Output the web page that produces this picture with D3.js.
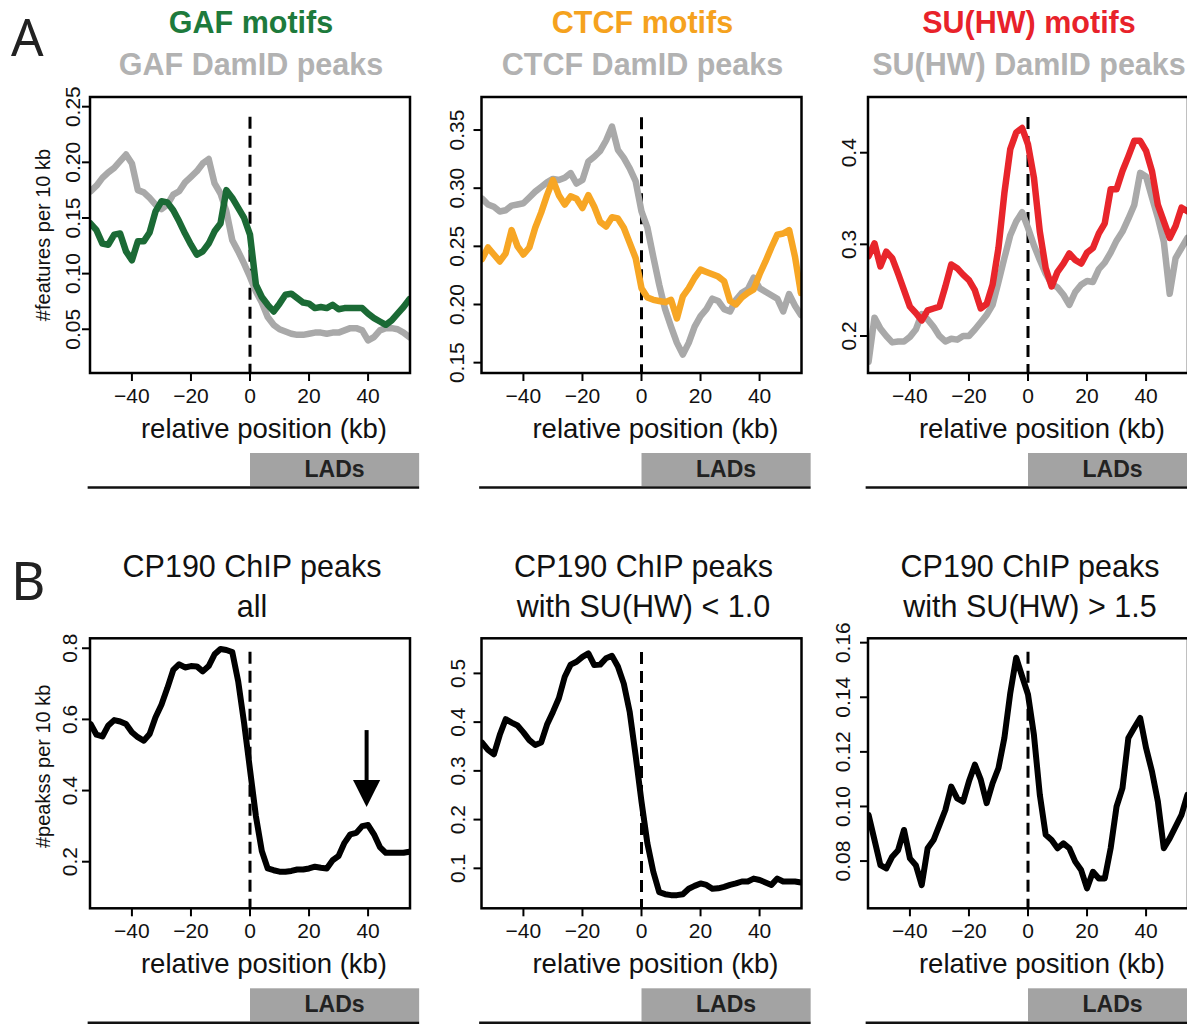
<!DOCTYPE html>
<html><head><meta charset="utf-8">
<script src="https://cdn.jsdelivr.net/npm/d3@7"></script>
<style>body{margin:0;background:#fff} svg{display:block}</style>
</head><body><svg id="c" width="1187" height="1025"></svg>
<script>
// ---- data (kb positions relative to LAD border) ----
const positions = [-54,-52,-50,-48,-46,-44,-42,-40,-38,-36,-34,-32,-30,-28,-26,-24,-22,-20,-18,-16,-14,-12,-10,-8,-6,-4,-2,0,2,4,6,8,10,12,14,16,18,20,22,24,26,28,30,32,34,36,38,40,42,44,46,48,50,52,54];

const gafMotifs = [0.145,0.139,0.127,0.126,0.135,0.136,0.120,0.112,0.129,0.129,0.137,0.156,0.165,0.164,0.157,0.147,0.136,0.126,0.117,0.120,0.127,0.138,0.145,0.175,0.168,0.159,0.150,0.135,0.090,0.079,0.072,0.066,0.073,0.081,0.082,0.078,0.074,0.073,0.069,0.070,0.069,0.072,0.068,0.069,0.069,0.069,0.069,0.064,0.060,0.057,0.054,0.058,0.064,0.070,0.077];
const gafPeaks = [0.174,0.179,0.186,0.191,0.195,0.201,0.207,0.199,0.175,0.173,0.168,0.162,0.158,0.162,0.171,0.174,0.182,0.187,0.192,0.199,0.203,0.181,0.172,0.156,0.130,0.120,0.109,0.097,0.084,0.074,0.061,0.054,0.050,0.048,0.046,0.045,0.045,0.046,0.047,0.047,0.046,0.047,0.047,0.049,0.051,0.051,0.049,0.040,0.043,0.049,0.051,0.051,0.050,0.047,0.043];

const ctcfMotifs = [0.239,0.249,0.243,0.237,0.244,0.264,0.250,0.243,0.249,0.266,0.279,0.294,0.307,0.294,0.286,0.293,0.291,0.283,0.294,0.284,0.271,0.267,0.275,0.274,0.266,0.253,0.240,0.214,0.206,0.204,0.203,0.202,0.204,0.188,0.207,0.214,0.223,0.230,0.228,0.226,0.224,0.220,0.203,0.200,0.206,0.210,0.213,0.226,0.237,0.249,0.260,0.261,0.264,0.241,0.210];
const ctcfPeaks = [0.291,0.286,0.284,0.280,0.281,0.285,0.286,0.287,0.292,0.297,0.301,0.305,0.308,0.307,0.309,0.313,0.304,0.307,0.323,0.327,0.332,0.341,0.353,0.333,0.326,0.317,0.306,0.280,0.266,0.241,0.217,0.196,0.181,0.167,0.157,0.167,0.181,0.190,0.196,0.205,0.203,0.196,0.194,0.204,0.210,0.213,0.223,0.214,0.211,0.208,0.205,0.194,0.209,0.199,0.191];

const suhwMotifs = [0.287,0.301,0.276,0.292,0.285,0.268,0.250,0.232,0.225,0.217,0.228,0.230,0.232,0.254,0.278,0.274,0.267,0.261,0.250,0.230,0.235,0.256,0.296,0.356,0.404,0.422,0.427,0.409,0.373,0.314,0.274,0.254,0.270,0.279,0.290,0.283,0.279,0.291,0.296,0.312,0.323,0.360,0.360,0.380,0.396,0.413,0.413,0.402,0.380,0.343,0.325,0.307,0.320,0.340,0.336];
const suhwPeaks = [0.172,0.220,0.208,0.200,0.193,0.194,0.194,0.199,0.207,0.224,0.218,0.210,0.200,0.194,0.197,0.196,0.200,0.200,0.207,0.215,0.223,0.234,0.259,0.285,0.310,0.325,0.335,0.318,0.299,0.283,0.268,0.257,0.253,0.245,0.234,0.248,0.256,0.260,0.259,0.273,0.280,0.291,0.304,0.314,0.328,0.343,0.378,0.374,0.351,0.329,0.303,0.246,0.285,0.296,0.307];

const cp190All = [0.587,0.557,0.552,0.583,0.598,0.594,0.587,0.564,0.550,0.540,0.559,0.606,0.641,0.688,0.739,0.755,0.746,0.750,0.749,0.735,0.750,0.783,0.798,0.795,0.789,0.707,0.590,0.459,0.328,0.230,0.181,0.176,0.172,0.172,0.174,0.178,0.178,0.181,0.186,0.183,0.181,0.204,0.216,0.253,0.277,0.281,0.300,0.303,0.277,0.241,0.225,0.225,0.225,0.225,0.228];
const cp190Low = [0.358,0.343,0.334,0.374,0.406,0.399,0.393,0.379,0.363,0.353,0.358,0.395,0.421,0.449,0.493,0.518,0.524,0.534,0.541,0.517,0.518,0.531,0.536,0.514,0.479,0.421,0.332,0.237,0.151,0.093,0.051,0.047,0.045,0.045,0.047,0.058,0.064,0.069,0.066,0.058,0.059,0.062,0.066,0.069,0.073,0.073,0.079,0.076,0.071,0.066,0.079,0.073,0.073,0.073,0.071];
const cp190High = [0.0969,0.0877,0.0785,0.0773,0.0816,0.0840,0.0914,0.0810,0.0785,0.0712,0.0847,0.0877,0.0932,0.0987,0.1073,0.1030,0.1018,0.1092,0.1153,0.1098,0.1012,0.1085,0.1141,0.1251,0.1416,0.1545,0.1477,0.1410,0.1263,0.1043,0.0896,0.0877,0.0847,0.0865,0.0847,0.0798,0.0767,0.0700,0.0761,0.0736,0.0736,0.0847,0.1000,0.1067,0.1251,0.1288,0.1324,0.1214,0.1128,0.1018,0.0847,0.0883,0.0926,0.0969,0.1043];

const xTicks = [-40,-20,0,20,40];
const yTicksA1 = [0.05,0.10,0.15,0.20,0.25];
const yTicksA2 = [0.15,0.20,0.25,0.30,0.35];
const yTicksA3 = [0.2,0.3,0.4];
const yTicksB1 = [0.2,0.4,0.6,0.8];
const yTicksB2 = [0.1,0.2,0.3,0.4,0.5];
const yTicksB3 = [0.08,0.10,0.12,0.14,0.16];
const ladExtent = [0, 57.3];
const ladBaseline = [-55, 57.3];
const arrowB1 = {x: 39.5, top: 0.57, base: 0.43, tip: 0.354, half: 4.6};

// ---- styling ----
const FONT = '"Liberation Sans", Arial, Helvetica, sans-serif';
const GRAY = '#a9a9a9', GREEN = '#1b6a35', ORANGE = '#f7a624', RED = '#e8252b';
const svg = d3.select('#c');
const cols = [90, 481.5, 868];
const W = 320;
const rows = [{top: 97, h: 276}, {top: 638.3, h: 270}];

const panels = [
  {col:0,row:0,yDomain:[0.0107,0.2587],yTicks:yTicksA1,fmt:d3.format('.2f'),gap:10,dashTop:0.241,
   series:[{v:gafPeaks,c:GRAY},{v:gafMotifs,c:GREEN}],lw:6.5,
   titles:[{t:'GAF motifs',c:'#1d7a3c',bold:true},{t:'GAF DamID peaks',c:'#b2b2b2',bold:true}],
   ylab:'#features per 10 kb'},
  {col:1,row:0,yDomain:[0.1411,0.3784],yTicks:yTicksA2,fmt:d3.format('.2f'),gap:18,dashTop:0.361,
   series:[{v:ctcfPeaks,c:GRAY},{v:ctcfMotifs,c:ORANGE}],lw:6.5,
   titles:[{t:'CTCF motifs',c:'#f5a21e',bold:true},{t:'CTCF DamID peaks',c:'#b2b2b2',bold:true}]},
  {col:2,row:0,yDomain:[0.1596,0.4608],yTicks:yTicksA3,fmt:d3.format('.1f'),gap:12,dashTop:0.439,
   series:[{v:suhwPeaks,c:GRAY},{v:suhwMotifs,c:RED}],lw:6.5,
   titles:[{t:'SU(HW) motifs',c:'#e8222a',bold:true},{t:'SU(HW) DamID peaks',c:'#b2b2b2',bold:true}]},
  {col:0,row:1,yDomain:[0.069,0.828],yTicks:yTicksB1,fmt:d3.format('.1f'),gap:13,dashTop:0.79,
   series:[{v:cp190All,c:'#000'}],lw:6,
   titles:[{t:'CP190 ChIP peaks',c:'#111'},{t:'all',c:'#111'}],
   ylab:'#peakss per 10 kb', arrow:arrowB1},
  {col:1,row:1,yDomain:[0.018,0.572],yTicks:yTicksB2,fmt:d3.format('.1f'),gap:17,dashTop:0.544,
   series:[{v:cp190Low,c:'#000'}],lw:6,
   titles:[{t:'CP190 ChIP peaks',c:'#111'},{t:'with SU(HW) < 1.0',c:'#111'}]},
  {col:2,row:1,yDomain:[0.0627,0.1616],yTicks:yTicksB3,fmt:d3.format('.2f'),gap:18,dashTop:0.1567,
   series:[{v:cp190High,c:'#000'}],lw:6,
   titles:[{t:'CP190 ChIP peaks',c:'#111'},{t:'with SU(HW) > 1.5',c:'#111'}]}
];

// panel letters
svg.append('text').attr('x',11).attr('y',56).text('A')
  .attr('font-family','"Noto Sans", "Open Sans", sans-serif').attr('font-size',51).attr('fill','#222');
svg.append('text').attr('x',11).attr('y',600).text('B')
  .attr('font-family','"Noto Sans", "Open Sans", sans-serif').attr('font-size',53).attr('fill','#222');

panels.forEach((p, i) => {
  const left = cols[p.col], top = rows[p.row].top, h = rows[p.row].h, bottom = top + h;
  const x = d3.scaleLinear().domain([-54.2, 54.2]).range([left, left + W]);
  const y = d3.scaleLinear().domain(p.yDomain).range([bottom, top]);
  const g = svg.append('g');

  // titles
  const x0 = x(0);
  if (p.row === 0) {
    p.titles.forEach((t, k) => {
      g.append('text').attr('x', x0 + 1).attr('y', k === 0 ? 33 : 75).attr('text-anchor','middle')
        .attr('font-family', FONT).attr('font-weight','bold').attr('font-size', 30.5)
        .attr('fill', t.c).text(t.t);
    });
  } else {
    p.titles.forEach((t, k) => {
      g.append('text').attr('x', x0 + 2).attr('y', k === 0 ? 577 : 617).attr('text-anchor','middle')
        .attr('font-family', FONT).attr('font-size', 30.5).attr('fill', t.c).text(t.t);
    });
  }

  // clip
  const cid = 'clip' + i;
  svg.append('clipPath').attr('id', cid).append('rect')
    .attr('x', left).attr('y', top).attr('width', W).attr('height', h);

  // dashed line at LAD border
  g.append('line').attr('x1', x(0)).attr('x2', x(0)).attr('y1', y(p.dashTop)).attr('y2', y(p.yDomain[0]))
    .attr('stroke','#000').attr('stroke-width',3).attr('stroke-dasharray','12,7');

  // series
  const line = d3.line().x((d, j) => x(positions[j])).y(d => y(d));
  p.series.forEach(s => {
    g.append('path').datum(s.v).attr('d', line).attr('fill','none')
      .attr('stroke', s.c).attr('stroke-width', p.lw)
      .attr('stroke-linejoin','round').attr('stroke-linecap','round')
      .attr('clip-path', `url(#${cid})`);
  });

  // box
  g.append('rect').attr('x', left).attr('y', top).attr('width', W).attr('height', h)
    .attr('fill','none').attr('stroke','#000').attr('stroke-width',2.5);

  // x axis ticks
  xTicks.forEach(t => {
    g.append('line').attr('x1', x(t)).attr('x2', x(t)).attr('y1', bottom).attr('y2', bottom + 8)
      .attr('stroke','#000').attr('stroke-width',2);
    g.append('text').attr('x', x(t)).attr('y', bottom + 30).attr('text-anchor','middle')
      .attr('font-family', FONT).attr('font-size', 21).attr('fill','#111')
      .text(t < 0 ? '\u2212' + Math.abs(t) : String(t));
  });
  g.append('text').attr('x', x(0) + 14).attr('y', bottom + 65).attr('text-anchor','middle')
    .attr('font-family', FONT).attr('font-size', 27.5).attr('fill','#111').text('relative position (kb)');

  // y axis ticks
  p.yTicks.forEach(t => {
    g.append('line').attr('x1', left - 8).attr('x2', left).attr('y1', y(t)).attr('y2', y(t))
      .attr('stroke','#000').attr('stroke-width',2);
    g.append('text').attr('transform', `translate(${left - p.gap},${y(t)}) rotate(-90)`)
      .attr('text-anchor','middle').attr('font-family', FONT).attr('font-size', 21).attr('fill','#111')
      .text(p.fmt(t));
  });
  if (p.ylab) {
    const cy = p.row === 0 ? (top + bottom) / 2 : (top + bottom) / 2 - 7;
    g.append('text').attr('transform', `translate(${left - 40},${cy}) rotate(-90)`)
      .attr('text-anchor','middle').attr('font-family', FONT).attr('font-size', 20).attr('fill','#111')
      .text(p.ylab);
  }

  // arrow
  if (p.arrow) {
    const a = p.arrow;
    g.append('line').attr('x1', x(a.x)).attr('x2', x(a.x)).attr('y1', y(a.top)).attr('y2', y(a.base) + 2)
      .attr('stroke','#000').attr('stroke-width',4);
    g.append('path').attr('d', `M${x(a.x - a.half)},${y(a.base)} L${x(a.x + a.half)},${y(a.base)} L${x(a.x)},${y(a.tip)} Z`)
      .attr('fill','#000');
  }

  // LADs bar
  const barTop = bottom + 80;
  g.append('rect').attr('x', x(ladExtent[0])).attr('y', barTop)
    .attr('width', x(ladExtent[1]) - x(ladExtent[0])).attr('height', 33).attr('fill','#a3a3a3');
  g.append('text').attr('x', (x(ladExtent[0]) + x(ladExtent[1])) / 2).attr('y', barTop + 24)
    .attr('text-anchor','middle').attr('font-family', FONT).attr('font-weight','bold')
    .attr('font-size', 23).attr('fill','#222').text('LADs');
  g.append('line').attr('x1', x(ladBaseline[0])).attr('x2', x(ladBaseline[1]))
    .attr('y1', bottom + 114.5).attr('y2', bottom + 114.5).attr('stroke','#111').attr('stroke-width',2.5);
});
</script></body></html>
